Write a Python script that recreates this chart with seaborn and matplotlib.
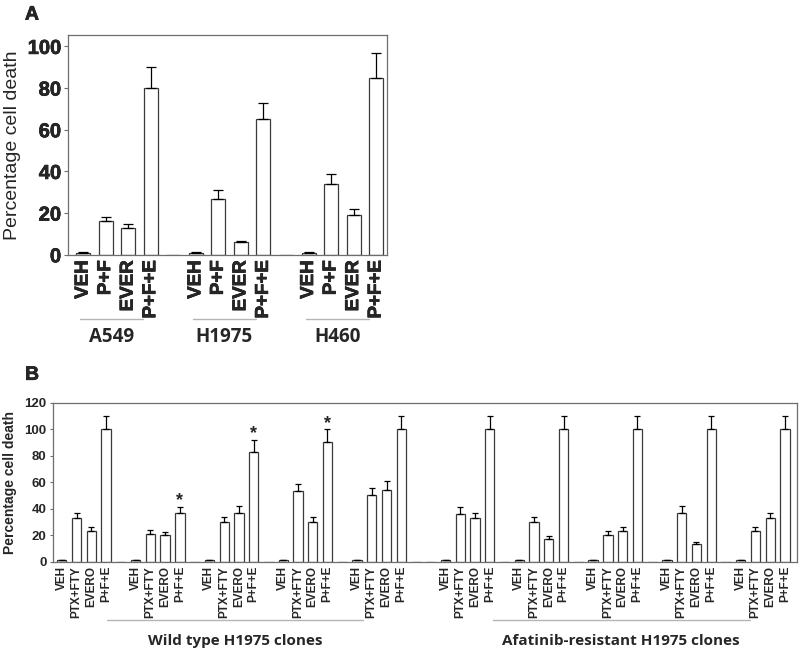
import numpy as np
import pandas as pd
import matplotlib
matplotlib.use("Agg")
import matplotlib.pyplot as plt
import matplotlib.transforms as mtransforms
import matplotlib.patheffects as pe
import seaborn as sns

# ─── Data ────────────────────────────────────────────────────────────────────
# Panel A: three cell lines
a_lines = ["A549", "H1975", "H460"]
a_treat = ["VEH", "P+F", "EVER", "P+F+E"]
a549_mean = [1, 16, 13, 80]
a549_err = [0.3, 2, 2, 10]
h1975_mean = [1, 27, 6, 65]
h1975_err = [0.3, 4, 0.5, 8]
h460_mean = [1, 34, 19, 85]
h460_err = [0.3, 5, 3, 12]

# Panel B: wild type and afatinib-resistant H1975 clones
b_treat = ["VEH", "PTX+FTY", "EVERO", "P+F+E"]
wt_mean = [[1, 33, 23, 100], [1, 21, 20, 37], [1, 30, 37, 83],
           [1, 53, 30, 90], [1, 50, 54, 100]]
wt_err = [[0.3, 4, 3, 10], [0.3, 3, 2.5, 4.5], [0.3, 4, 5, 9],
          [0.3, 6, 4, 10], [0.3, 6, 7, 10]]
wt_star = [False, True, True, True, False]
ar_mean = [[1, 36, 33, 100], [1, 30, 17, 100], [1, 20, 23, 100],
           [1, 37, 13, 100], [1, 23, 33, 100]]
ar_err = [[0.3, 5, 4, 10], [0.3, 3.5, 2.5, 10], [0.3, 3, 3.5, 10],
          [0.3, 5, 2, 10], [0.3, 3, 4, 10]]
b_sets = ["Wild type H1975 clones", "Afatinib-resistant H1975 clones"]

# ─── Style ───────────────────────────────────────────────────────────────────
sns.set_theme(style="white")
plt.rcParams["font.family"] = ["Liberation Sans", "DejaVu Sans"]
EDGE = "#3a3a3a"
SPINE = "#6e6e6e"
RULE = "#b5b5b5"
LABEL_FONT = ["Open Sans", "DejaVu Sans"]


def heavy(w):
    return [pe.withStroke(linewidth=w, foreground="black")]


def layout(groups, extra_gap_after=None):
    """Slot positions: 4 bars + 1 blank slot per group."""
    rows, blanks, pos = [], [], 0
    for g, vals in enumerate(groups):
        for i, v in enumerate(vals):
            rows.append((pos + i, v))
        pos += 4
        if g < len(groups) - 1:
            blanks.append(pos)
            pos += 1
            if extra_gap_after is not None and g == extra_gap_after:
                blanks.append(pos)
                pos += 1
    return rows, blanks


def draw_bars(ax, groups, errs, width, gap=None, cap=3):
    rows, blanks = layout(groups, extra_gap_after=gap)
    xs = [r[0] for r in rows] + blanks
    ys = [r[1] for r in rows] + [0] * len(blanks)
    df = pd.DataFrame({"x": xs, "y": ys})
    sns.barplot(data=df, x="x", y="y", native_scale=True, width=width,
                color="white", edgecolor=EDGE, linewidth=0.9,
                errorbar=None, ax=ax, zorder=2)
    for p in ax.patches:
        p.set_facecolor("white")
    bx = np.array([r[0] for r in rows])
    by = np.array([r[1] for r in rows])
    be = np.array([e for grp in errs for e in grp])
    ax.errorbar(bx, by, yerr=[np.zeros_like(be), be], fmt="none",
                ecolor="black", elinewidth=0.9, capsize=cap,
                capthick=0.9, zorder=3)
    return bx, by, be


def bold_ticks(ax, xsize, ysize, stroke):
    for t in ax.get_xticklabels():
        t.set_fontsize(xsize)
        t.set_fontweight("bold")
        t.set_rotation(90)
        if stroke:
            t.set_path_effects(heavy(stroke))
    for t in ax.get_yticklabels():
        t.set_fontsize(ysize)
        t.set_fontweight("bold")
        if stroke:
            t.set_path_effects(heavy(stroke))


fig = plt.figure(figsize=(8, 6.55), dpi=100)

# ─── Panel A ─────────────────────────────────────────────────────────────────
axA = fig.add_axes([0.085, 0.611, 0.399, 0.336])
a_groups = [a549_mean, h1975_mean, h460_mean]
bxA, byA, beA = draw_bars(axA, a_groups, [a549_err, h1975_err, h460_err],
                          0.62, cap=3.5)
axA.set_xlim(-0.67, 13.49)
axA.set_ylim(0, 105.6)
axA.set_yticks(range(0, 101, 20))
axA.set_yticklabels([str(v) for v in range(0, 101, 20)])
axA.set_xticks(bxA)
axA.set_xticklabels(a_treat * len(a_lines))
bold_ticks(axA, 13.5, 14.5, 0.45)
axA.tick_params(axis="x", length=0, pad=4)
axA.tick_params(axis="y", length=3, width=0.8, color=SPINE, left=True, pad=2)
axA.set_xlabel("")
axA.set_ylabel("Percentage cell death", fontsize=14, labelpad=5)
for s in axA.spines.values():
    s.set_color(SPINE)
    s.set_linewidth(0.9)
trA = mtransforms.blended_transform_factory(axA.transData, axA.transAxes)
for g, name in enumerate(a_lines):
    x0 = bxA[g * 4] - 0.13
    x1 = bxA[g * 4 + 3] - 0.33
    axA.plot([x0, x1], [-0.29, -0.29], color=RULE, lw=1, transform=trA,
             clip_on=False)
    axA.text((x0 + x1) / 2, -0.375, name, transform=trA, ha="center",
             va="center", fontsize=13.5, fontweight="bold", family=LABEL_FONT)
fig.text(0.04, 0.977, "A", fontsize=14, fontweight="bold", ha="center",
         va="center", path_effects=heavy(0.45))

# ─── Panel B ─────────────────────────────────────────────────────────────────
axB = fig.add_axes([0.066, 0.1424, 0.93, 0.2428])
bxB, byB, beB = draw_bars(axB, wt_mean + ar_mean, wt_err + ar_err, 0.63,
                          gap=len(wt_mean) - 1, cap=2.5)
axB.set_xlim(-0.61, 49.8)
axB.set_ylim(0, 120)
axB.set_yticks(range(0, 121, 20))
axB.set_yticklabels([str(v) for v in range(0, 121, 20)])
axB.set_xticks(bxB)
axB.set_xticklabels(b_treat * (len(wt_mean) + len(ar_mean)))
bold_ticks(axB, 8.5, 9.5, 0)
axB.tick_params(axis="x", length=0, pad=3)
axB.tick_params(axis="y", length=2.5, width=0.8, color=SPINE, left=True, pad=2)
axB.set_xlabel("")
axB.set_ylabel("Percentage cell death", fontsize=10, fontweight="bold",
               labelpad=5)
for s in axB.spines.values():
    s.set_color(SPINE)
    s.set_linewidth(0.9)

# significance stars on wild type P+F+E bars
for g, star in enumerate(wt_star):
    if star:
        k = g * 4 + 3
        axB.text(bxB[k], byB[k] + beB[k] + 4.5, "*", ha="center", va="center",
                 fontsize=13, fontweight="bold")

trB = mtransforms.blended_transform_factory(axB.transData, axB.transAxes)
n_wt = len(wt_mean)
spans = [(bxB[3] + 0.05, bxB[(n_wt - 1) * 4] + 0.4),
         (bxB[n_wt * 4 + 3] + 0.2, bxB[-4] + 0.6)]
for (x0, x1), name in zip(spans, b_sets):
    axB.plot([x0, x1], [-0.367, -0.367], color=RULE, lw=1, transform=trB,
             clip_on=False)
    axB.text((x0 + x1) / 2, -0.5, name, transform=trB, ha="center",
             va="center", fontsize=11, fontweight="bold", family=LABEL_FONT)
fig.text(0.04, 0.427, "B", fontsize=14, fontweight="bold", ha="center",
         va="center", path_effects=heavy(0.45))

fig.savefig("out.png", dpi=100)
